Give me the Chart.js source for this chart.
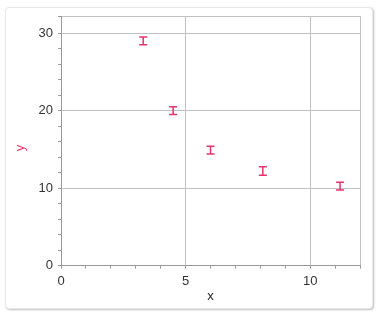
<!DOCTYPE html>
<html><head><meta charset="utf-8">
<script src="https://cdn.jsdelivr.net/npm/chart.js@4"></script>
<style>
html,body{margin:0;padding:0;background:#fff;}
#wrap{position:relative;width:379px;height:315px;overflow:hidden;}
#frame{position:absolute;left:5px;top:7px;width:366px;height:300px;border:1px solid #e8e8e8;border-radius:4px;box-shadow:1px 1px 2px rgba(0,0,0,0.25);background:#fff;}
canvas{position:absolute;left:0;top:0;}
</style></head>
<body>
<div id="wrap"><div id="frame"></div><canvas id="c" width="379" height="315"></canvas></div>
<script>
const xValues = [3.3, 4.5, 6.0, 8.1, 11.2];
const yValues = [29.0, 20.0, 14.9, 12.2, 10.25];
const yErrors = [0.5, 0.5, 0.5, 0.55, 0.5];
const xTickLabels = [0, 5, 10];
const yTickLabels = [0, 10, 20, 30];
const xMax = 12, yMax = 32.2;
const pink = '#e5336b';

const datasets = xValues.map((x, i) => ({
  data: [{x: x, y: yValues[i] - yErrors[i]}, {x: x, y: yValues[i] + yErrors[i]}],
  showLine: true,
  borderColor: pink,
  borderWidth: 1.5,
  pointStyle: 'line',
  pointRadius: 4,
  pointBorderWidth: 1.5,
  pointBorderColor: pink,
  pointBackgroundColor: pink,
  pointHoverRadius: 4
}));

const font = {family: 'Liberation Sans, Arial, Helvetica, sans-serif', size: 13};

new Chart(document.getElementById('c'), {
  type: 'scatter',
  data: {datasets},
  options: {
    responsive: false,
    animation: false,
    devicePixelRatio: 1,
    layout: {padding: {top: 16, right: 19, left: 0, bottom: 0}},
    plugins: {legend: {display: false}, tooltip: {enabled: false}},
    scales: {
      x: {
        type: 'linear', min: 0, max: xMax,
        ticks: {stepSize: 1, autoSkip: false, maxRotation: 0, padding: 5, color: '#333', font,
          callback: v => xTickLabels.includes(v) ? String(v) : ''},
        grid: {
          color: c => (c.tick && (xTickLabels.includes(c.tick.value) || c.tick.value === xMax)) ? '#c2c2c2' : 'rgba(0,0,0,0)',
          tickColor: '#999', tickLength: 3, lineWidth: 1
        },
        border: {color: '#999'},
        title: {display: true, text: 'x', color: '#222', font, padding: {top: 0, bottom: 11}},
        afterFit: s => { s.height = 49.3; }
      },
      y: {
        type: 'linear', min: 0, max: yMax,
        ticks: {stepSize: 2, autoSkip: false, padding: 5, color: '#333', font,
          callback: v => yTickLabels.includes(v) ? String(v) : ''},
        grid: {
          color: c => (c.tick && (yTickLabels.includes(c.tick.value) || c.tick.value === yMax)) ? '#c2c2c2' : 'rgba(0,0,0,0)',
          tickColor: '#999', tickLength: 3, lineWidth: 1
        },
        border: {color: '#999'},
        title: {display: true, text: 'y    ', color: pink, font, padding: {top: 13, bottom: 0}},
        afterFit: s => { s.width = 61; }
      }
    }
  }
});
</script>
</body></html>
